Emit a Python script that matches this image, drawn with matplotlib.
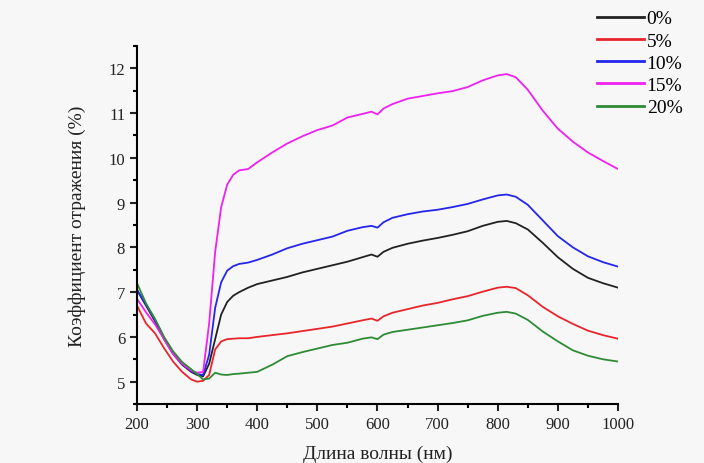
import numpy as np
import matplotlib
matplotlib.use("Agg")
import matplotlib.pyplot as plt
from matplotlib.ticker import MultipleLocator

# wavelength grid (nm)
wl = [200, 215, 230, 245, 260, 275, 290, 300, 310, 320, 330, 340, 350, 360, 370,
      385, 400, 425, 450, 475, 500, 525, 550, 575, 590, 600, 610, 625, 650, 675,
      700, 725, 750, 775, 800, 815, 830, 850, 875, 900, 925, 950, 975, 1000]

r0 = [7.05, 6.70, 6.35, 5.95, 5.62, 5.38, 5.22, 5.15, 5.12, 5.40, 5.95, 6.50, 6.78, 6.92, 7.00,
      7.10, 7.18, 7.26, 7.34, 7.44, 7.52, 7.60, 7.68, 7.78, 7.84, 7.79, 7.90, 7.99, 8.08, 8.15,
      8.21, 8.28, 8.36, 8.48, 8.57, 8.59, 8.54, 8.40, 8.10, 7.78, 7.52, 7.32, 7.20, 7.10]

r5 = [6.70, 6.30, 6.08, 5.75, 5.45, 5.22, 5.05, 5.00, 5.02, 5.15, 5.72, 5.90, 5.95, 5.96, 5.97,
      5.97, 6.00, 6.04, 6.08, 6.13, 6.18, 6.23, 6.30, 6.37, 6.41, 6.36, 6.46, 6.54, 6.62, 6.70,
      6.76, 6.84, 6.91, 7.01, 7.10, 7.12, 7.09, 6.93, 6.67, 6.46, 6.29, 6.14, 6.04, 5.96]

r10 = [7.05, 6.72, 6.38, 5.98, 5.64, 5.40, 5.24, 5.17, 5.15, 5.60, 6.65, 7.22, 7.48, 7.58, 7.63,
       7.66, 7.72, 7.84, 7.98, 8.08, 8.16, 8.24, 8.37, 8.45, 8.48, 8.44, 8.56, 8.66, 8.74, 8.80,
       8.84, 8.90, 8.97, 9.07, 9.16, 9.18, 9.13, 8.95, 8.60, 8.25, 8.00, 7.80, 7.67, 7.57]

r15 = [6.85, 6.55, 6.28, 5.95, 5.62, 5.40, 5.25, 5.20, 5.22, 6.30, 7.90, 8.90, 9.40, 9.62, 9.72,
       9.75, 9.90, 10.12, 10.32, 10.48, 10.62, 10.72, 10.90, 10.98, 11.03, 10.97, 11.10, 11.20, 11.32, 11.38,
       11.44, 11.49, 11.58, 11.73, 11.84, 11.87, 11.80, 11.52, 11.05, 10.65, 10.36, 10.12, 9.93, 9.75]

r20 = [7.20, 6.75, 6.40, 6.00, 5.68, 5.44, 5.28, 5.17, 5.05, 5.07, 5.20, 5.16, 5.15, 5.17, 5.18,
       5.20, 5.22, 5.38, 5.57, 5.66, 5.74, 5.82, 5.87, 5.96, 5.99, 5.95, 6.05, 6.11, 6.16, 6.21,
       6.26, 6.31, 6.37, 6.47, 6.54, 6.56, 6.52, 6.38, 6.12, 5.90, 5.70, 5.58, 5.50, 5.45]

labels = ['0%', '5%', '10%', '15%', '20%']
colors = ['#222222', '#e8252b', '#2525ee', '#f020f0', '#2e8b35']

plt.rcParams['font.family'] = ['Liberation Serif', 'DejaVu Serif']
bg = '#f7f7f7'

fig = plt.figure(figsize=(7.04, 4.64), dpi=100, facecolor=bg)
ax = fig.add_axes([0.1946, 0.127, 0.6832, 0.772], facecolor=bg)

for y, lab, c in zip([r0, r5, r10, r15, r20], labels, colors):
    ax.plot(wl, y, color=c, lw=1.3, label=lab)

ax.set_xlim(200, 1000)
ax.set_ylim(4.5, 12.5)
ax.xaxis.set_major_locator(MultipleLocator(100))
ax.xaxis.set_minor_locator(MultipleLocator(50))
ax.yaxis.set_major_locator(MultipleLocator(1))
ax.yaxis.set_minor_locator(MultipleLocator(0.5))
ax.set_yticks([5, 6, 7, 8, 9, 10, 11, 12])

for s in ['top', 'right']:
    ax.spines[s].set_visible(False)
for s in ['left', 'bottom']:
    ax.spines[s].set_linewidth(1.5)
ax.tick_params(which='major', direction='out', length=5, width=1.5, labelsize=12, colors='#222222')
ax.tick_params(which='minor', direction='out', length=3, width=1.5)

ax.set_xlabel('Длина волны (нм)', fontsize=14, labelpad=9, color='#222222')
ax.set_ylabel('Коэффициент отражения (%)', fontsize=14, labelpad=16, color='#222222')

leg = ax.legend(loc='upper left', bbox_to_anchor=(0.833, 1.0), bbox_transform=fig.transFigure,
                frameon=False, fontsize=14, handlelength=2.4, handletextpad=0.15,
                labelspacing=0.24, borderaxespad=0.15)
for line in leg.get_lines():
    line.set_linewidth(2.0)

fig.savefig('out.png', dpi=100, facecolor=bg)
